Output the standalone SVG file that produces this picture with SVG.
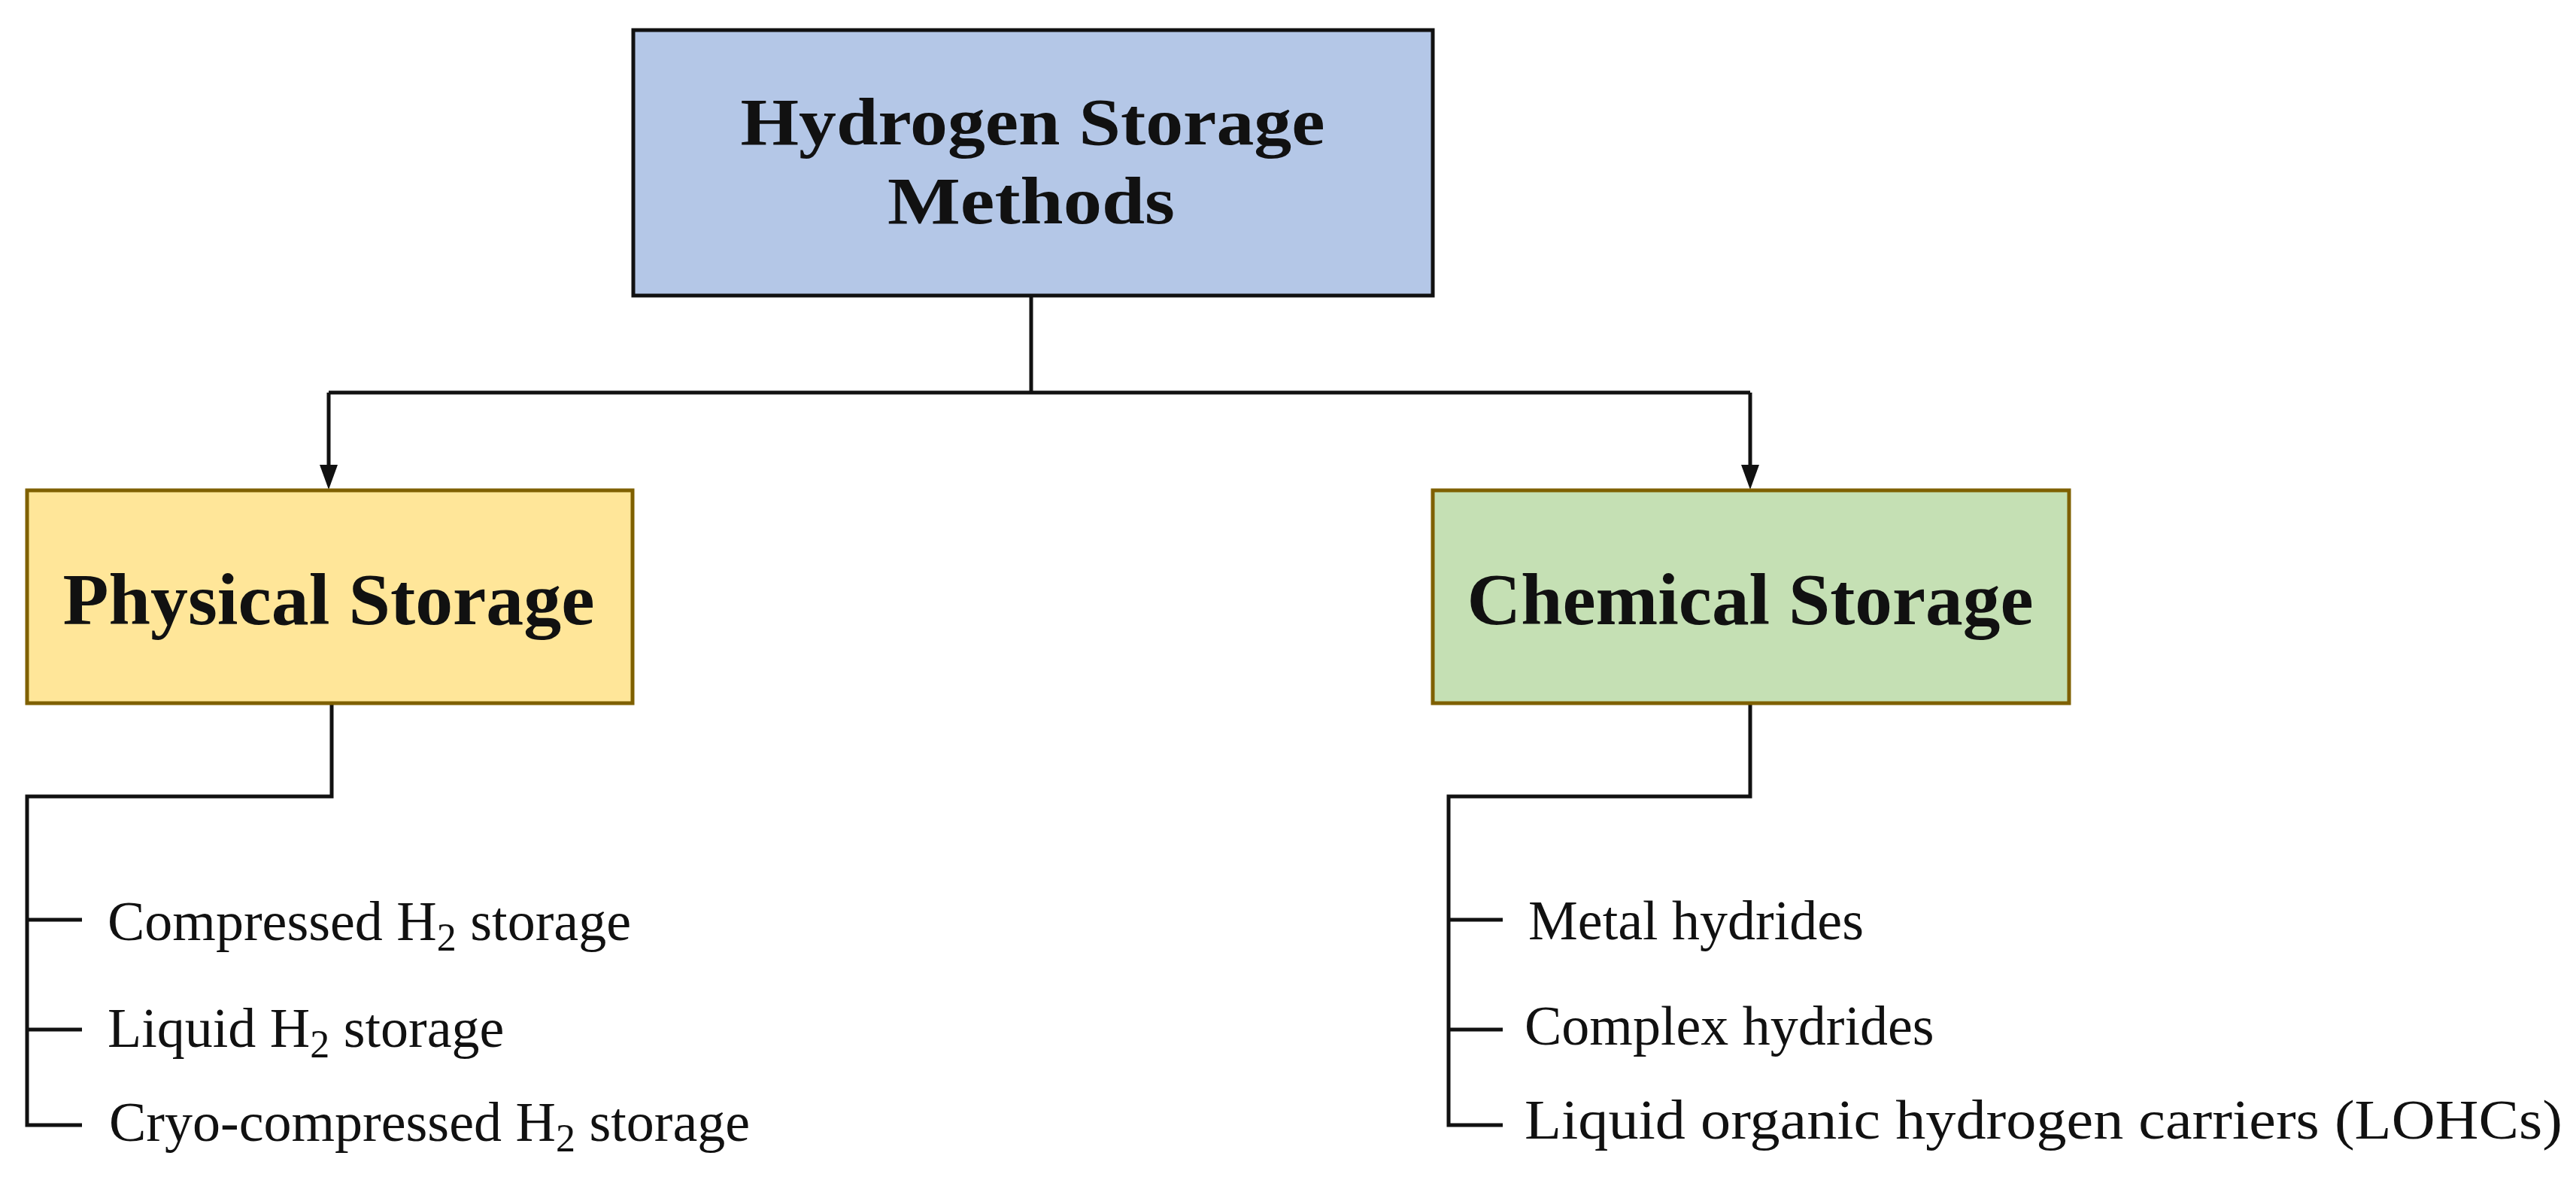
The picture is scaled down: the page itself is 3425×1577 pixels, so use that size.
<svg xmlns="http://www.w3.org/2000/svg" width="3425" height="1577" viewBox="0 0 3425 1577">
<style>
.t{font-family:"Liberation Serif","DejaVu Serif",serif;fill:#111}
.h{font-weight:bold;font-size:88px}
.b{font-weight:bold;font-size:98px}
.i{font-size:74px}
.s{font-size:52px}
.c{fill:none;stroke:#111;stroke-width:5}
</style>
<defs>
<marker id="a" viewBox="0 0 10 10" refX="5" refY="10" markerWidth="24" markerHeight="34" orient="auto-start-reverse" markerUnits="userSpaceOnUse"><path d="M0,0 L10,0 L5,10 z" fill="#111"/></marker>
</defs>
<rect width="3425" height="1577" fill="#fff"/>
<g id="connectors">
<path class="c" d="M1371,393 V522 M437,522 H2327"/>
<path class="c" d="M437,522 V618"/>
<path d="M425,618 L449,618 L437,651 z" fill="#111"/>
<path class="c" d="M2327,522 V618"/>
<path d="M2315,618 L2339,618 L2327,651 z" fill="#111"/>
<path class="c" d="M441,935 V1059 H36 V1496 H109 M36,1223 H109 M36,1369 H109"/>
<path class="c" d="M2327,935 V1059 H1926 V1496 H1998 M1926,1223 H1998 M1926,1369 H1998"/>
</g>
<g id="root">
<rect x="842" y="40" width="1063" height="353" fill="#B4C7E7" stroke="#111" stroke-width="5"/>
<text class="t h" x="1373" y="192" text-anchor="middle" textLength="777" lengthAdjust="spacingAndGlyphs">Hydrogen Storage</text>
<text class="t h" x="1371" y="297" text-anchor="middle" textLength="382" lengthAdjust="spacingAndGlyphs">Methods</text>
</g>
<g id="physical">
<rect x="36" y="652" width="805" height="283" fill="#FFE699" stroke="#7F6000" stroke-width="5"/>
<text class="t b" x="437" y="830" text-anchor="middle" textLength="707" lengthAdjust="spacingAndGlyphs">Physical Storage</text>
</g>
<g id="chemical">
<rect x="1905" y="652" width="846" height="283" fill="#C5E0B4" stroke="#7F6000" stroke-width="5"/>
<text class="t b" x="2327" y="830" text-anchor="middle" textLength="753" lengthAdjust="spacingAndGlyphs">Chemical Storage</text>
</g>
<g id="phys-items">
<text class="t i" x="143" y="1250">Compressed H<tspan class="s" dy="14">2</tspan><tspan dy="-14"> storage</tspan></text>
<text class="t i" x="143" y="1392">Liquid H<tspan class="s" dy="14">2</tspan><tspan dy="-14"> storage</tspan></text>
<text class="t i" x="145" y="1517">Cryo-compressed H<tspan class="s" dy="14">2</tspan><tspan dy="-14"> storage</tspan></text>
</g>
<g id="chem-items">
<text class="t i" x="2032" y="1249">Metal hydrides</text>
<text class="t i" x="2027" y="1389">Complex hydrides</text>
<text class="t i" x="2027" y="1514" textLength="1380" lengthAdjust="spacingAndGlyphs">Liquid organic hydrogen carriers (LOHCs)</text>
</g>
</svg>
